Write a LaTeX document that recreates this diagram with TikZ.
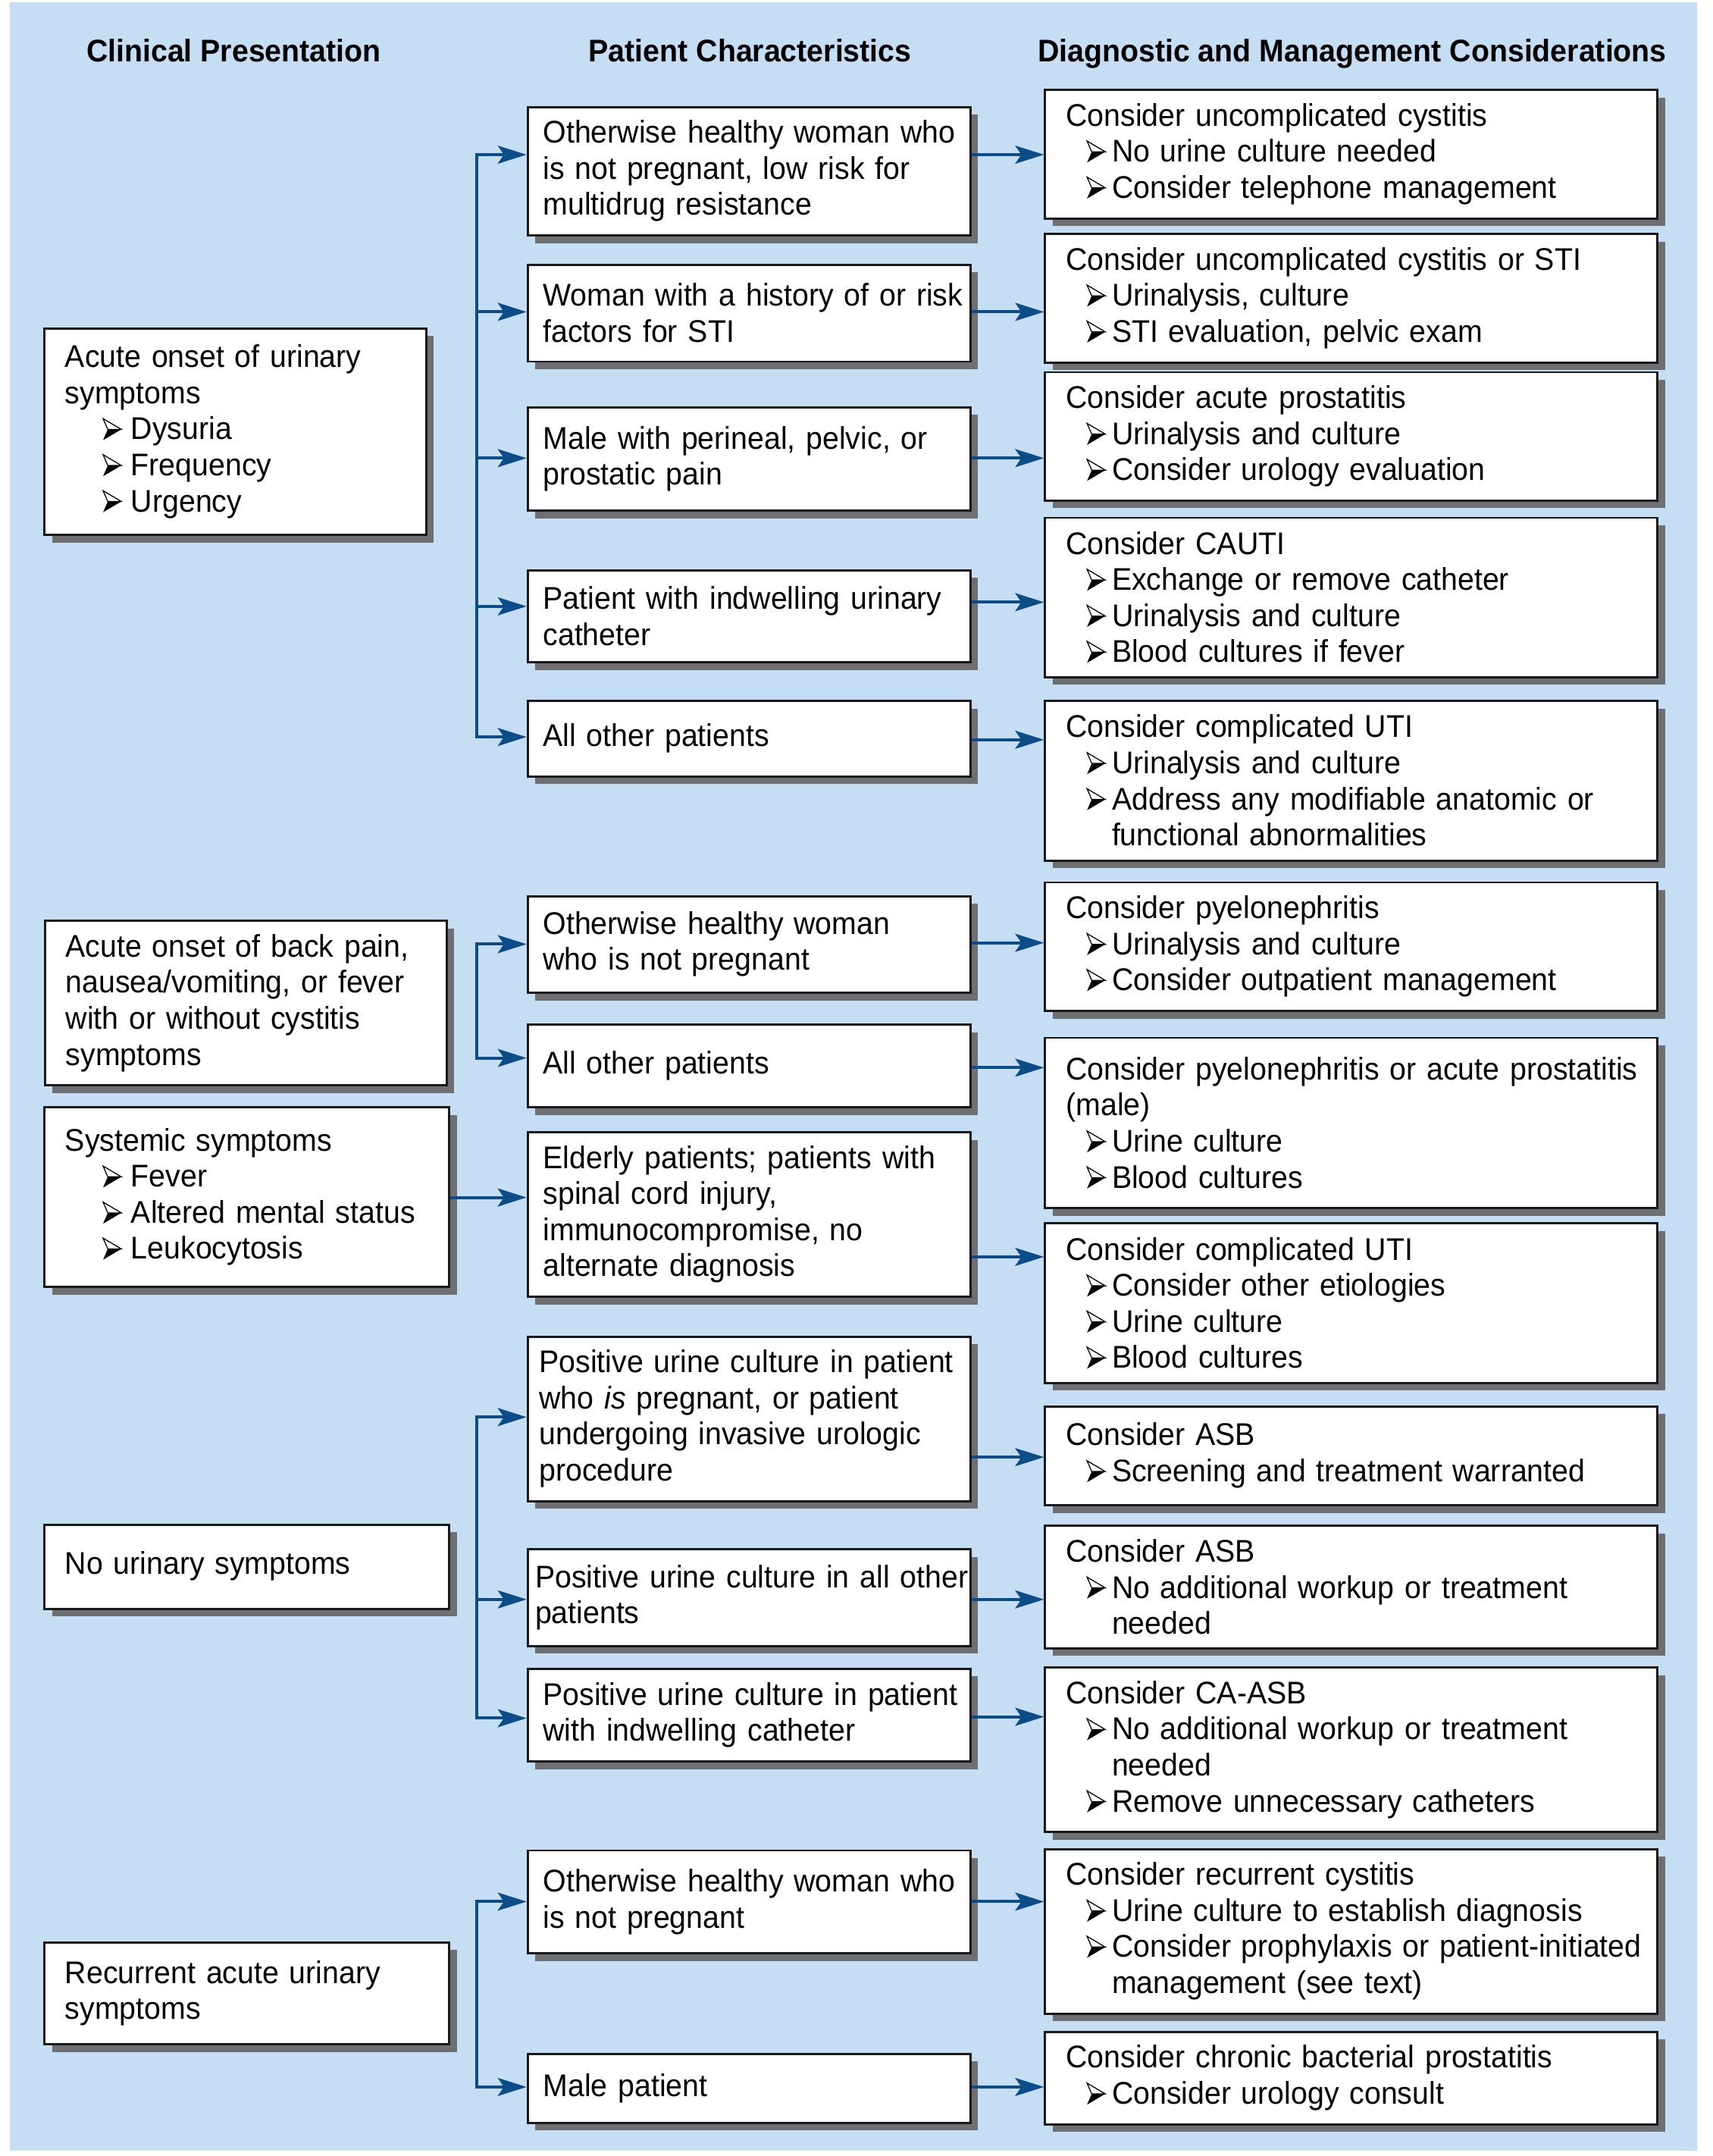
\documentclass[tikz,border=0pt]{standalone}
\usepackage{fontspec}
\setmainfont{Liberation Sans}[FakeStretch=0.95]
\usetikzlibrary{arrows.meta,shadows}

\definecolor{panelBlue}{RGB}{198,222,243}
\definecolor{shadowGray}{RGB}{110,111,114}
\definecolor{linkBlue}{RGB}{12,76,136}

% arrowhead bullet, one line of text, a bullet line, a continuation line
\newcommand\bulmark{\tikz[x=1pt, y=1pt, baseline=0pt, line width=0.35pt, line join=miter]{%
	\fill (0,-0.2) -- (6.6,3.7) -- (1.7,3.7) -- cycle;
	\filldraw[fill=white] (0,7.6) -- (6.6,3.7) -- (1.7,3.7) -- cycle;}}
\newcommand\hd[1]{\par\noindent\mbox{#1}}
\newcommand\bul[1]{\par\noindent\hspace*{7.4pt}\makebox[9.2pt][l]{\bulmark}\mbox{#1}}
\newcommand\abul[1]{\par\noindent\hspace*{13.6pt}\makebox[10.3pt][l]{\bulmark}\mbox{#1}}
\newcommand\cnt[1]{\par\noindent\hspace*{16.6pt}\mbox{#1}}
\newcommand\boxend{\par\kern5pt}

\tikzstyle{flowboxes}=[%
	every node/.style={%
		font=\fontsize{11.35}{13.05}\selectfont
	},%
	boxBase/.style={%
		draw=black!90,
		line width=0.8pt,
		fill=white,
		anchor=north west,
		align=left,
		inner ysep=0pt,
		execute at end node=\boxend,
		general shadow={fill=shadowGray, shadow xshift=2.75pt, shadow yshift=-2.75pt}
	},%
	clinBox/.style={boxBase, inner xsep=7.5pt},
	charBox/.style={boxBase, inner xsep=5.6pt, minimum width=160.25pt, text width=149.05pt},
	diagBox/.style={boxBase, inner xsep=7.6pt, minimum width=221.75pt, text width=206.55pt},
	busLine/.style={draw=linkBlue, line width=1.1pt},
	flowArrow/.style={busLine, -{Stealth[length=10.4pt, width=6.5pt, inset=2.2pt]}},
	colHead/.style={font=\bfseries\fontsize{11.35}{13.05}\selectfont, anchor=base}
]

\begin{document}
\begin{tikzpicture}[
	x=0.5pt,
	y=-0.5pt,
	flowboxes
]
	\useasboundingbox (0,0) rectangle (1240,1561);
	\fill[panelBlue] (7,1.6) rectangle (1229,1557);

	\node[colHead] (h1) at (169.3,45) {Clinical Presentation};
	\node[colHead] (h2) at (543.2,45) {Patient Characteristics};
	\node[colHead] (h3) at (979.2,45) {Diagnostic and Management Considerations};

	% clinical presentation
	\node[clinBox, minimum width=138.25pt, minimum height=74.8pt, text width=123.25pt] (a1) at (31.3,237)
		{\hd{Acute onset of urinary}\hd{symptoms}\abul{Dysuria}\abul{Frequency}\abul{Urgency}};
	\node[clinBox, minimum width=145.4pt, minimum height=57.5pt, text width=130.4pt] (a2) at (31.8,666)
		{\hd{Acute onset of back pain,}\hd{nausea/vomiting, or fever}\hd{with or without cystitis}\hd{symptoms}};
	\node[clinBox, minimum width=146.55pt, minimum height=65pt, text width=131.55pt] (a3) at (31.3,801)
		{\hd{Systemic symptoms}\abul{Fever}\abul{Altered mental status}\abul{Leukocytosis}};
	\node[clinBox, minimum width=146.55pt, minimum height=30.5pt, text width=131.55pt] (a4) at (31.3,1103)
		{\hd{No urinary symptoms}};
	\node[clinBox, minimum width=146.55pt, minimum height=36.85pt, text width=131.55pt] (a5) at (31.3,1405.6)
		{\hd{Recurrent acute urinary}\hd{symptoms}};

	% patient characteristics
	\node[charBox, minimum height=43.3pt] (b1) at (381.3,76.7)
		{\hd{Otherwise healthy woman who}\hd{is not pregnant, low risk for}\hd{multidrug resistance}};
	\node[charBox, minimum height=35pt] (b2) at (381.3,191)
		{\hd{Woman with a history of or risk}\hd{factors for STI}};
	\node[charBox, minimum height=37.45pt] (b3) at (381.3,294.1)
		{\hd{Male with perineal, pelvic, or}\hd{prostatic pain}};
	\node[charBox, minimum height=33.4pt] (b4) at (381.3,412)
		{\hd{Patient with indwelling urinary}\hd{catheter}};
	\node[charBox, minimum height=27.4pt] (b5) at (381.3,506.7)
		{\hd{All other patients}};
	\node[charBox, minimum height=35pt] (b6) at (381.3,648)
		{\hd{Otherwise healthy woman}\hd{who is not pregnant}};
	\node[charBox, minimum height=30pt] (b7) at (381.3,741)
		{\hd{All other patients}};
	\node[charBox, minimum height=59.25pt] (b8) at (381.3,819)
		{\hd{Elderly patients; patients with}\hd{spinal cord injury,}\hd{immunocompromise, no}\hd{alternate diagnosis}};
	\node[charBox, minimum height=59pt, inner xsep=4.2pt, text width=151.85pt] (b9) at (381.3,967)
		{\hd{Positive urine culture in patient}\hd{who \textit{is} pregnant, or patient}\hd{undergoing invasive urologic}\hd{procedure}};
	\node[charBox, minimum height=35pt, inner xsep=2.7pt, text width=154.85pt] (b10) at (381.3,1121)
		{\hd{Positive urine culture in all other}\hd{patients}};
	\node[charBox, minimum height=33.5pt] (b11) at (381.3,1207.5)
		{\hd{Positive urine culture in patient}\hd{with indwelling catheter}};
	\node[charBox, minimum height=37.3pt] (b12) at (381.3,1339)
		{\hd{Otherwise healthy woman who}\hd{is not pregnant}};
	\node[charBox, minimum height=24.9pt] (b13) at (381.3,1486.3)
		{\hd{Male patient}};

	% diagnostic and management considerations
	\node[diagBox, minimum height=45.6pt] (c1) at (756,64.3)
		{\hd{Consider uncomplicated cystitis}\bul{No urine culture needed}\bul{Consider telephone management}};
	\node[diagBox, minimum height=45.7pt] (c2) at (756,168.6)
		{\hd{Consider uncomplicated cystitis or STI}\bul{Urinalysis, culture}\bul{STI evaluation, pelvic exam}};
	\node[diagBox, minimum height=45.55pt] (c3) at (756,268.7)
		{\hd{Consider acute prostatitis}\bul{Urinalysis and culture}\bul{Consider urology evaluation}};
	\node[diagBox, minimum height=57.65pt] (c4) at (756,374.1)
		{\hd{Consider CAUTI}\bul{Exchange or remove catheter}\bul{Urinalysis and culture}\bul{Blood cultures if fever}};
	\node[diagBox, minimum height=57.75pt] (c5) at (756,506.7)
		{\hd{Consider complicated UTI}\bul{Urinalysis and culture}\bul{Address any modifiable anatomic or}\cnt{functional abnormalities}};
	\node[diagBox, minimum height=45.8pt] (c6) at (756,638.1)
		{\hd{Consider pyelonephritis}\bul{Urinalysis and culture}\bul{Consider outpatient management}};
	\node[diagBox, minimum height=61.7pt] (c7) at (756,750.6)
		{\hd{Consider pyelonephritis or acute prostatitis}\hd{(male)}\bul{Urine culture}\bul{Blood cultures}};
	\node[diagBox, minimum height=57.75pt] (c8) at (756,885)
		{\hd{Consider complicated UTI}\bul{Consider other etiologies}\bul{Urine culture}\bul{Blood cultures}};
	\node[diagBox, minimum height=35.85pt] (c9) at (756,1017.4)
		{\hd{Consider ASB}\bul{Screening and treatment warranted}};
	\node[diagBox, minimum height=44.3pt] (c10) at (756,1104)
		{\hd{Consider ASB}\bul{No additional workup or treatment}\cnt{needed}};
	\node[diagBox, minimum height=53.7pt] (c11) at (756,1206.6)
		{\hd{Consider CA-ASB}\bul{No additional workup or treatment}\cnt{needed}\bul{Remove unnecessary catheters}};
	\node[diagBox, minimum height=55.7pt] (c12) at (756,1338)
		{\hd{Consider recurrent cystitis}\bul{Urine culture to establish diagnosis}\bul{Consider prophylaxis or patient-initiated}\cnt{management (see text)}};
	\node[diagBox, minimum height=32.85pt] (c13) at (756,1470.4)
		{\hd{Consider chronic bacterial prostatitis}\bul{Consider urology consult}};

	% branching lines into the middle column
	\foreach \y [count=\i] in {112, 225.8, 331.7, 439, 533.6, 683.6, 766, 867, 1026, 1158, 1244, 1376.8, 1511} {
		\coordinate (l\i) at (345.5,\y);
	}
	\draw[busLine, line cap=rect] (l1) -- (l5);
	\draw[busLine, line cap=rect] (l6) -- (l7);
	\draw[busLine, line cap=rect] (l9) -- (l11);
	\draw[busLine, line cap=rect] (l12) -- (l13);
	\foreach \i in {1,2,3,4,5,6,7,9,10,11,12,13} {
		\draw[flowArrow] (l\i) -- (l\i -| b\i.west);
	}
	\draw[flowArrow] (a3.east |- l8) -- (l8 -| b8.west);

	% arrows into the right column
	\foreach \y [count=\i] in {112, 225.8, 331.7, 436, 535.6, 682.6, 773, 910, 1055, 1158, 1243, 1376.8, 1511} {
		\coordinate (r\i) at (0,\y);
		\draw[flowArrow] (b\i.east |- r\i) -- (c\i.west |- r\i);
	}
\end{tikzpicture}
\end{document}
